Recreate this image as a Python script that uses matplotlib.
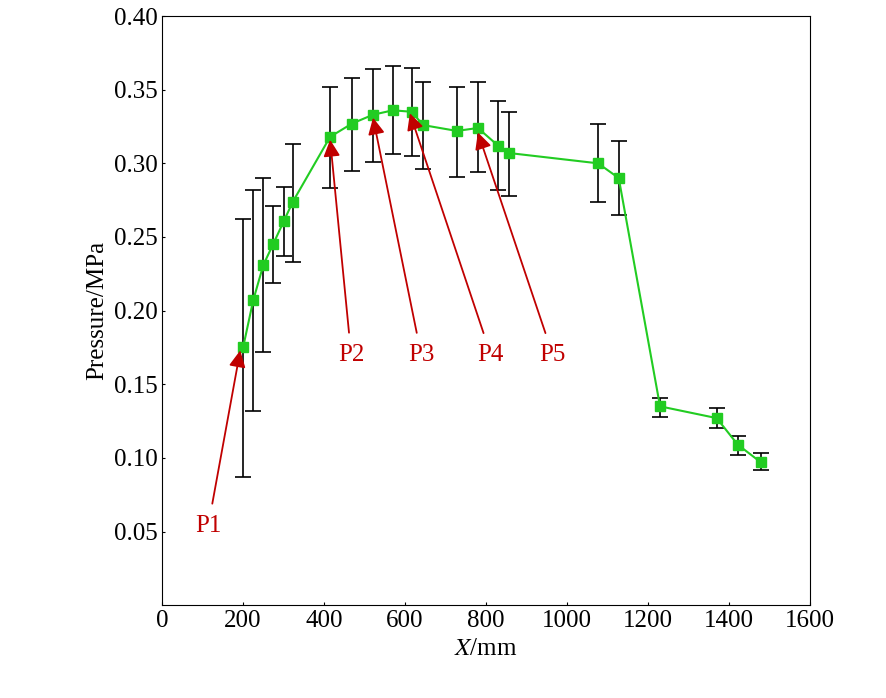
import matplotlib.pyplot as plt

x = [200, 225, 250, 274, 301, 323, 415, 469, 521, 570, 617, 644, 728, 780, 830, 857,
     1077, 1128, 1230, 1370, 1422, 1479]
pressure = [0.175, 0.207, 0.231, 0.245, 0.261, 0.274, 0.318, 0.327, 0.333, 0.336, 0.335,
            0.326, 0.322, 0.324, 0.312, 0.307, 0.300, 0.290, 0.135, 0.127, 0.109, 0.097]
err_low = [0.087, 0.132, 0.172, 0.219, 0.237, 0.233, 0.283, 0.295, 0.301, 0.306, 0.305,
           0.296, 0.291, 0.294, 0.282, 0.278, 0.274, 0.265, 0.128, 0.120, 0.102, 0.092]
err_high = [0.262, 0.282, 0.290, 0.271, 0.284, 0.313, 0.352, 0.358, 0.364, 0.366, 0.365,
            0.355, 0.352, 0.355, 0.342, 0.335, 0.327, 0.315, 0.141, 0.134, 0.115, 0.103]
labels = ['P1', 'P2', 'P3', 'P4', 'P5']
label_pos = [(114, 0.054), (467, 0.170), (640, 0.170), (812, 0.170), (965, 0.170)]
arrow_tip = [(193, 0.173), (415, 0.316), (521, 0.331), (612, 0.334), (780, 0.321)]

plt.rcParams['font.family'] = ['Liberation Serif', 'DejaVu Serif']
plt.rcParams['mathtext.fontset'] = 'stix'
fig = plt.figure(figsize=(8.86, 6.98), dpi=100)
ax = fig.add_axes([0.183, 0.133, 0.731, 0.844])

lo = [p - l for p, l in zip(pressure, err_low)]
hi = [h - p for p, h in zip(pressure, err_high)]
ax.errorbar(x, pressure, yerr=[lo, hi], fmt='none', ecolor='black', elinewidth=1.2,
            capsize=6, capthick=1.2, zorder=1)
ax.plot(x, pressure, color='#22cc22', lw=1.5, marker='s', ms=7,
        mfc='#22cc22', mec='#22cc22', zorder=2)

for lab, (tx, ty), (ax_, ay) in zip(labels, label_pos, arrow_tip):
    ax.annotate(lab, xy=(ax_, ay), xytext=(tx, ty), color='#c00000', fontsize=18,
                ha='center', va='center',
                arrowprops=dict(arrowstyle='-|>', color='#c00000', lw=1.3,
                                mutation_scale=25, shrinkA=6, shrinkB=0))

ax.set_xlim(0, 1600)
ax.set_ylim(0, 0.40)
ax.set_xticks(range(0, 1601, 200))
ax.set_yticks([0.05 * i for i in range(1, 9)])
ax.set_yticklabels([f'{0.05 * i:.2f}' for i in range(1, 9)])
ax.tick_params(direction='in', labelsize=18, length=2)
ax.set_xlabel('$\\mathit{X}$/mm', fontsize=18)
ax.set_ylabel('Pressure/MPa', fontsize=18)

fig.savefig('out.png', dpi=100)
